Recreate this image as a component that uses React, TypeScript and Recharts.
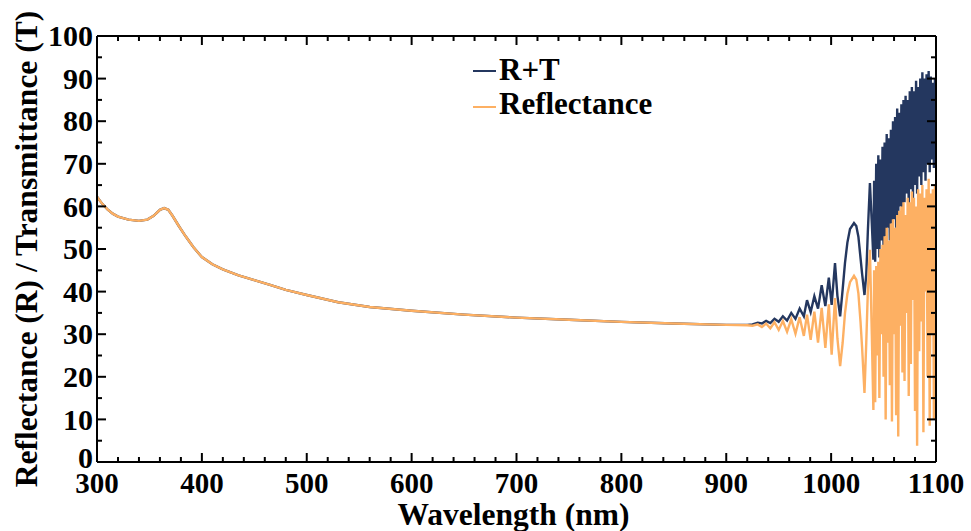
import { LineChart, Line, XAxis, YAxis, Legend, Label } from "recharts";

// wavelength grid (nm)
const wavelength = [
  300, 305, 310, 315, 320, 330, 340, 348, 354, 360, 364, 368, 372, 378, 385, 392, 400, 410, 420, 435,
  450, 465, 480, 500, 530, 560, 600, 650, 700, 750, 800, 850, 900, 920,
  925, 930, 934, 938, 942, 946, 950, 954, 958, 962, 966, 970, 974, 977, 980.5, 984, 987.5, 991, 994.5,
  997.8, 1000.5, 1003.7, 1006, 1008.6, 1011, 1013.2, 1015.5, 1018, 1021.8, 1024, 1026, 1028, 1029.5,
  1031.8, 1033.5, 1035, 1037, 1038.8, 1040.3,
  1041, 1042, 1043, 1044, 1045, 1046, 1047, 1048, 1049, 1050, 1051, 1052, 1053, 1054, 1055, 1056,
  1057, 1058, 1059, 1060, 1061, 1062, 1063, 1064, 1065, 1066, 1067, 1068, 1069, 1070, 1071, 1072,
  1073, 1074, 1075, 1076, 1077, 1078, 1079, 1080, 1081, 1082, 1083, 1084, 1085, 1086, 1087, 1088,
  1089, 1090, 1091, 1092, 1093, 1094, 1095, 1096, 1097, 1098, 1099, 1100,
];

// reflectance (%)
const reflectance = [
  62.3, 60.6, 59.3, 58.3, 57.6, 56.9, 56.6, 56.9, 57.8, 59.2, 59.6, 59.2, 57.8, 55.4, 52.8, 50.4, 48.1, 46.4, 45.2, 43.8,
  42.7, 41.6, 40.4, 39.2, 37.5, 36.4, 35.5, 34.6, 33.9, 33.4, 32.9, 32.5, 32.2, 32.1,
  32.0, 32.3, 31.7, 32.5, 31.4, 32.8, 31.0, 33.1, 30.6, 33.5, 30.1, 34.0, 29.6, 34.6, 28.7, 35.3, 28.0, 36.2, 26.8,
  37.0, 25.2, 38.5, 29.0, 22.5, 28.0, 34.9, 39.5, 42.2, 43.7, 42.8, 39.6, 33.0, 27.0,
  16.2, 28.0, 40.0, 49.8, 30.0, 12.2,
  45, 14, 46, 25, 47, 15, 50, 30, 51, 20, 53, 10, 55, 28, 52, 18,
  56, 9.5, 57, 30, 55, 11, 58, 6, 59, 32, 60, 21, 61, 19, 58, 35,
  62, 15.5, 61, 23, 63.5, 38, 62, 12, 60, 3.8, 64, 26, 63, 33, 65, 7,
  62, 40, 64, 20, 66.5, 8.5, 63, 30, 64, 10, 65, 40,
];

// reflectance + transmittance (%)
const sumRT = [
  62.3, 60.6, 59.3, 58.3, 57.6, 56.9, 56.6, 56.9, 57.8, 59.2, 59.6, 59.2, 57.8, 55.4, 52.8, 50.4, 48.1, 46.4, 45.2, 43.8,
  42.7, 41.6, 40.4, 39.2, 37.5, 36.4, 35.5, 34.6, 33.9, 33.4, 32.9, 32.5, 32.2, 32.2,
  32.3, 32.7, 32.5, 33.1, 32.6, 33.6, 32.9, 34.2, 33.2, 35.0, 33.6, 36.0, 34.2, 38.0, 35.2, 38.9, 36.0, 41.5, 36.6,
  43.3, 36.9, 46.7, 39.0, 34.2, 40.5, 46.7, 51.5, 54.7, 56.1, 55.4, 52.9, 48.0, 44.3,
  39.2, 44.0, 54.0, 65.5, 56.0, 47.5,
  66, 47, 70, 50, 72, 48, 71, 52, 74, 50, 75, 53, 77, 55, 76, 52,
  78, 56, 80, 57, 81, 55, 83, 58, 82, 60, 84, 57, 85, 61, 86, 63,
  85, 60, 87, 64, 88, 62, 87, 65, 89.5, 63, 88, 67, 90, 65, 91.5, 68,
  90, 66, 91, 70, 91.8, 68, 90.5, 71, 89, 69, 90, 75,
];

const xTicks = [
  300, 320, 340, 360, 380, 400, 420, 440, 460, 480, 500, 520, 540, 560, 580, 600, 620, 640, 660, 680,
  700, 720, 740, 760, 780, 800, 820, 840, 860, 880, 900, 920, 940, 960, 980, 1000, 1020, 1040, 1060,
  1080, 1100,
];
const yTicks = [0, 5, 10, 15, 20, 25, 30, 35, 40, 45, 50, 55, 60, 65, 70, 75, 80, 85, 90, 95, 100];

const data = wavelength.map((w, i) => ({ w, r: reflectance[i], rt: sumRT[i] }));

const NAVY = "#24375f";
const ORANGE = "#fdb063";
const FONT = "'Liberation Serif', 'Times New Roman', serif";

const BottomTick = (props: any) => {
  const { x, y, payload } = props;
  const major = payload.value % 100 === 0;
  return (
    <g>
      <line x1={x} x2={x} y1={y} y2={y - (major ? 9 : 5)} stroke="#000" strokeWidth={2} />
      {major && (
        <text x={x} y={y + 31} textAnchor="middle" fontFamily={FONT} fontWeight="bold" fontSize={29} fill="#000">
          {payload.value}
        </text>
      )}
    </g>
  );
};

const TopTick = (props: any) => {
  const { x, y, payload } = props;
  const major = payload.value % 100 === 0;
  return <line x1={x} x2={x} y1={y} y2={y + (major ? 9 : 5)} stroke="#000" strokeWidth={2} />;
};

const LeftTick = (props: any) => {
  const { x, y, payload } = props;
  const major = payload.value % 10 === 0;
  return (
    <g>
      <line x1={x} x2={x + (major ? 9 : 5)} y1={y} y2={y} stroke="#000" strokeWidth={2} />
      {major && (
        <text x={x - 4} y={y} dy={payload.value === 0 ? "0.2em" : "0.34em"} textAnchor="end" fontFamily={FONT} fontWeight="bold" fontSize={30} fill="#000">
          {payload.value}
        </text>
      )}
    </g>
  );
};

const RightTick = (props: any) => {
  const { x, y, payload } = props;
  const major = payload.value % 10 === 0;
  return <line x1={x} x2={x - (major ? 9 : 5)} y1={y} y2={y} stroke="#000" strokeWidth={2} />;
};

// legend drawn as a small svg, placed over the plot
const LegendBox = () => (
  <svg width={220} height={85} style={{ overflow: "visible" }}>
    <line x1={3} x2={26} y1={26} y2={26} stroke={NAVY} strokeWidth={2} />
    <text x={29} y={35} fontFamily={FONT} fontWeight="bold" fontSize={31} fill="#000">R+T</text>
    <line x1={3} x2={26} y1={62} y2={62} stroke={ORANGE} strokeWidth={2} />
    <text x={29} y={69} fontFamily={FONT} fontWeight="bold" fontSize={31} fill="#000">Reflectance</text>
  </svg>
);

export default function App() {
  return (
    <div style={{ position: "absolute", left: 0, top: 0, background: "#fff" }}>
      <LineChart width={971} height={531} data={data} margin={{ top: 0, right: 0, left: 0, bottom: 0 }}>
        <XAxis
          xAxisId="bottom"
          dataKey="w"
          type="number"
          domain={[300, 1100]}
          ticks={xTicks}
          interval={0}
          allowDataOverflow
          height={69}
          tickSize={0}
          tickMargin={0}
          tickLine={false}
          tick={<BottomTick />}
          axisLine={{ stroke: "#000", strokeWidth: 2 }}
        >
          <Label
            content={(p: any) => {
              const vb = p.viewBox;
              return (
                <text x={vb.x + vb.width / 2 - 3} y={vb.y + 63} textAnchor="middle" fontFamily={FONT} fontWeight="bold" fontSize={31.5} fill="#000">
                  Wavelength (nm)
                </text>
              );
            }}
          />
        </XAxis>
        <XAxis
          xAxisId="top"
          orientation="top"
          dataKey="w"
          type="number"
          domain={[300, 1100]}
          ticks={xTicks}
          interval={0}
          allowDataOverflow
          height={36}
          tickSize={0}
          tickMargin={0}
          tickLine={false}
          tick={<TopTick />}
          axisLine={{ stroke: "#000", strokeWidth: 2 }}
        />
        <YAxis
          yAxisId="left"
          type="number"
          domain={[0, 100]}
          ticks={yTicks}
          interval={0}
          allowDataOverflow
          width={97}
          tickSize={0}
          tickMargin={0}
          tickLine={false}
          tick={<LeftTick />}
          axisLine={{ stroke: "#000", strokeWidth: 2 }}
        >
          <Label
            content={(p: any) => {
              const vb = p.viewBox;
              const cy = vb.y + vb.height / 2;
              return (
                <text x={37} y={cy} transform={`rotate(-90, 37, ${cy})`} textAnchor="middle" fontFamily={FONT} fontWeight="bold" fontSize={31.5} fill="#000">
                  Reflectance (R) / Transmittance (T)
                </text>
              );
            }}
          />
        </YAxis>
        <YAxis
          yAxisId="right"
          orientation="right"
          type="number"
          domain={[0, 100]}
          ticks={yTicks}
          interval={0}
          allowDataOverflow
          width={35}
          tickSize={0}
          tickMargin={0}
          tickLine={false}
          tick={<RightTick />}
          axisLine={{ stroke: "#000", strokeWidth: 2 }}
        />
        <Legend
          layout="vertical"
          align="center"
          verticalAlign="middle"
          content={<LegendBox />}
          wrapperStyle={{ left: 470, top: 45, width: 220, height: 85 }}
        />
        <Line
          xAxisId="bottom"
          yAxisId="left"
          type="linear"
          dataKey="rt"
          name="R+T"
          stroke={NAVY}
          strokeWidth={2.4}
          dot={false}
          isAnimationActive={false}
        />
        <Line
          xAxisId="bottom"
          yAxisId="left"
          type="linear"
          dataKey="r"
          name="Reflectance"
          stroke={ORANGE}
          strokeWidth={2.4}
          dot={false}
          isAnimationActive={false}
        />
      </LineChart>
    </div>
  );
}
